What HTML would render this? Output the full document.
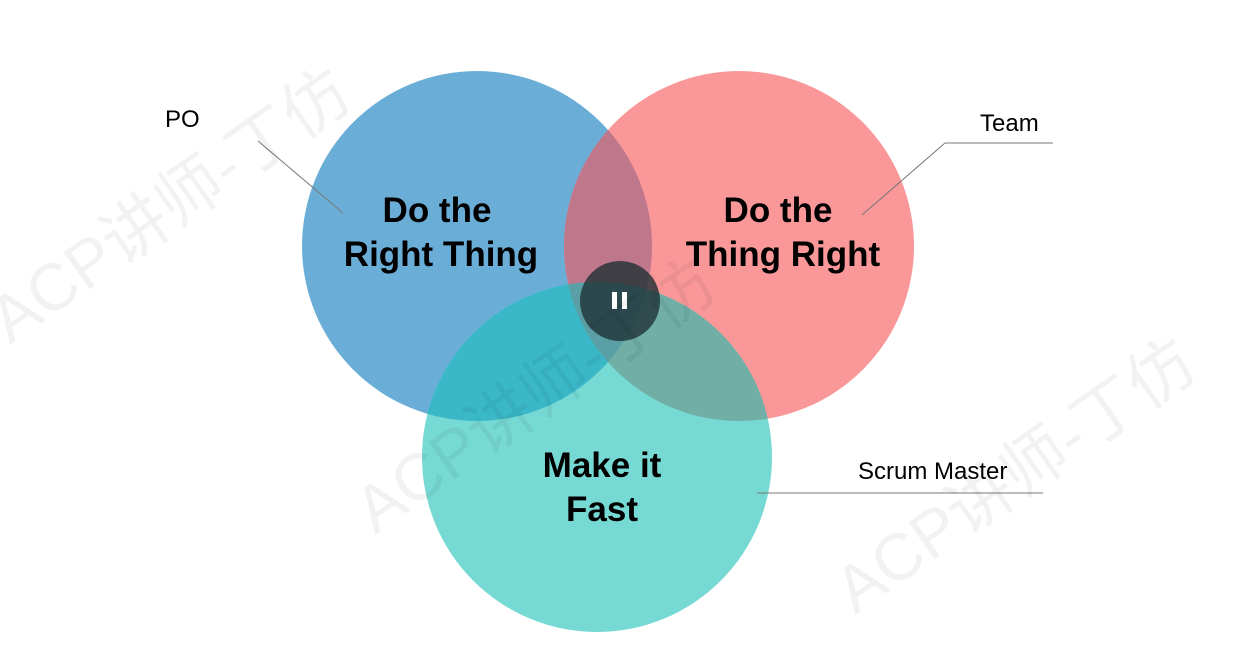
<!DOCTYPE html>
<html><head><meta charset="utf-8"><style>
html,body{margin:0;padding:0;background:#fff;}
svg{display:block;}
.b{font-family:"Liberation Sans",sans-serif;font-weight:bold;font-size:35px;fill:#000;text-anchor:middle;}
.l{font-family:"Liberation Sans",sans-serif;font-size:24px;fill:#000;}
.w{font-family:"Liberation Sans","Noto Sans CJK SC",sans-serif;font-size:66px;fill:#000;fill-opacity:0.05;}
</style></head><body>
<svg width="1244" height="665" viewBox="0 0 1244 665" xmlns="http://www.w3.org/2000/svg">
<defs>
<clipPath id="cb"><circle cx="477" cy="246" r="175"/></clipPath>
<clipPath id="cr"><circle cx="739" cy="246" r="175"/></clipPath>
<clipPath id="ct"><circle cx="597" cy="457" r="175"/></clipPath>
</defs>
<circle cx="477" cy="246" r="175" fill="#6aaed8"/>
<circle cx="739" cy="246" r="175" fill="#f99799"/>
<g clip-path="url(#cb)"><circle cx="739" cy="246" r="175" fill="#bf778b"/></g>
<circle cx="597" cy="457" r="175" fill="#76d9d3"/>
<g clip-path="url(#ct)"><circle cx="477" cy="246" r="175" fill="#3ab8c8"/></g>
<g clip-path="url(#ct)"><circle cx="739" cy="246" r="175" fill="#70aea6"/></g>
<g clip-path="url(#ct)"><g clip-path="url(#cb)"><circle cx="739" cy="246" r="175" fill="#5a9fa5"/></g></g>
<circle cx="620" cy="301" r="40" fill="#1e2f33" fill-opacity="0.78"/>
<rect x="612" y="292" width="5" height="17" fill="#fff"/>
<rect x="622" y="292" width="5" height="17" fill="#fff"/>
<text class="b" x="437" y="222">Do the</text>
<text class="b" x="441" y="266">Right Thing</text>
<text class="b" x="778" y="222">Do the</text>
<text class="b" x="783" y="266">Thing Right</text>
<text class="b" x="602" y="477">Make it</text>
<text class="b" x="602" y="521">Fast</text>
<line x1="258" y1="141" x2="343" y2="213" stroke="#777" stroke-width="1"/>
<polyline points="862,215 945,143 1053,143" fill="none" stroke="#777" stroke-width="1"/>
<line x1="757" y1="493" x2="1043" y2="493" stroke="#777" stroke-width="1"/>
<text class="l" x="165" y="127">PO</text>
<text class="l" x="980" y="131">Team</text>
<text class="l" x="858" y="479">Scrum Master</text>
<text class="w" transform="translate(10,345) rotate(-35)">ACP讲师-丁仿</text>
<text class="w" transform="translate(375,535) rotate(-35)">ACP讲师-丁仿</text>
<text class="w" transform="translate(855,615) rotate(-35)">ACP讲师-丁仿</text>
</svg>
</body></html>
